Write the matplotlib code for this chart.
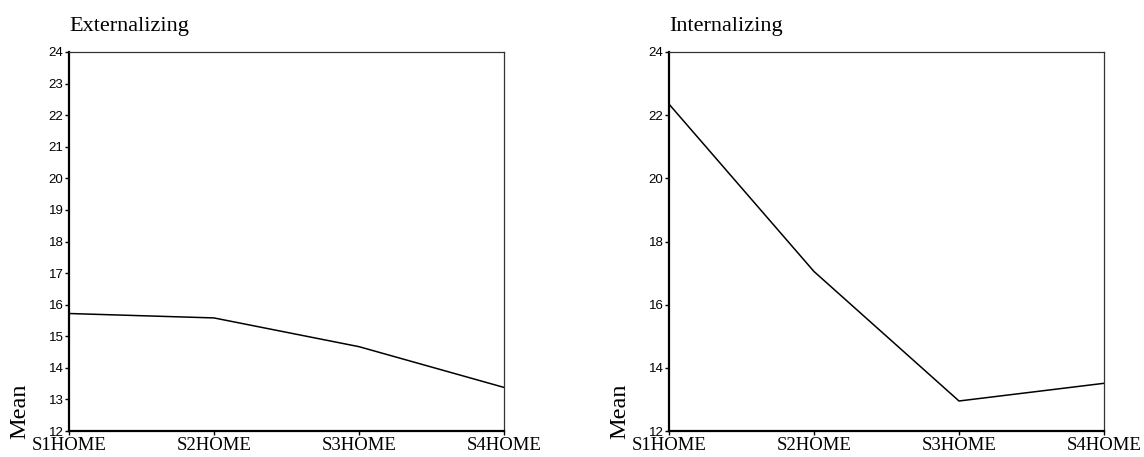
import matplotlib
matplotlib.use("Agg")
import matplotlib.pyplot as plt

# Mean scores at each home visit
visits = ["S1HOME", "S2HOME", "S3HOME", "S4HOME"]
externalizing = [15.72, 15.58, 14.67, 13.38]
internalizing = [22.35, 17.05, 12.95, 13.51]

ext_ticks = list(range(12, 25))
int_ticks = list(range(12, 25, 2))

serif = "Liberation Serif"
sans = "Liberation Sans"

fig = plt.figure(figsize=(11.44, 4.57), dpi=100)
W, H = 1144, 457


def panel(left_px, title, values, yticks):
    ax = fig.add_axes([left_px / W, 1 - 431 / H, 435 / W, 379 / H])
    x = list(range(len(visits)))
    ax.plot(x, values, color="black", lw=1.1, solid_joinstyle="miter")
    ax.set_xlim(0, len(visits) - 1)
    ax.set_ylim(12, 24)
    ax.set_xticks(x)
    ax.set_xticklabels(visits, fontfamily=serif, fontsize=13.5)
    ax.set_yticks(yticks)
    ax.set_yticklabels([str(t) for t in yticks], fontfamily=sans, fontsize=9.5)
    ax.tick_params(axis="y", length=3, width=1, pad=1, direction="out")
    ax.tick_params(axis="x", length=3, width=1, pad=1, direction="out")
    for s in ("left", "bottom"):
        ax.spines[s].set_linewidth(1.6)
        ax.spines[s].set_color("black")
    for s in ("top", "right"):
        ax.spines[s].set_linewidth(0.9)
        ax.spines[s].set_color("#333333")
    ax.text(0, 1.068, title, transform=ax.transAxes, ha="left", va="center",
            fontfamily=serif, fontsize=16)
    ax.text(-0.113, -0.022, "Mean", transform=ax.transAxes, rotation=90,
            ha="center", va="bottom", fontfamily=serif, fontsize=17.5)
    return ax


panel(69, "Externalizing", externalizing, ext_ticks)
panel(669, "Internalizing", internalizing, int_ticks)

fig.savefig("out.png", dpi=100)
